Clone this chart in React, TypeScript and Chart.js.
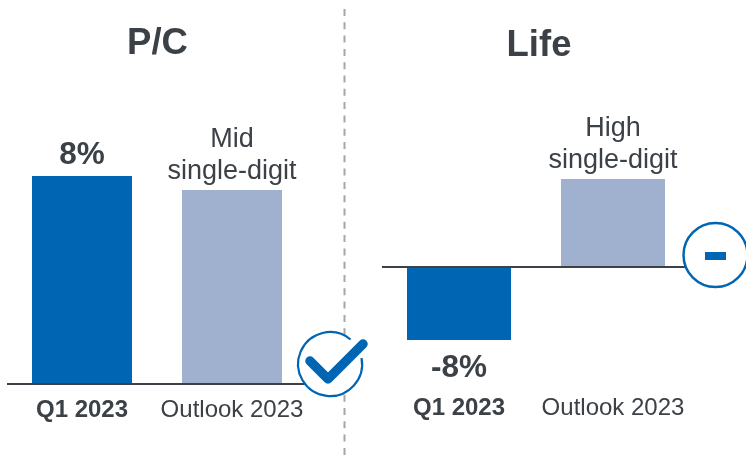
import React, { useEffect, useRef } from "react";
import { Chart, registerables } from "chart.js";

Chart.register(...registerables);

const categories = ["Q1 2023", "Outlook 2023"];
const pcValues = [8, 7.46];
const lifeValues = [-8, 9.64];
const pcLabels = [["8%"], ["Mid", "single-digit"]];
const lifeLabels = [["-8%"], ["High", "single-digit"]];
const pcTitle = "P/C";
const lifeTitle = "Life";

const BLUE = "#0066b3";
const LIGHT = "#9fb1cf";
const INK = "#3b4147";
const FONT = "'Liberation Sans', Arial, sans-serif";

type PanelCfg = {
  values: number[];
  labels: string[][];
  title: string;
  titleX: number;
  titleY: number;
  min: number;
  max: number;
  pad: { left: number; right: number };
  axisHeight: number;
  barPct: number;
  tickPad: number;
};

function makeChart(canvas: HTMLCanvasElement, cfg: PanelCfg) {
  const annotate = {
    id: "annotate",
    afterDatasetsDraw(chart: any) {
      const ctx = chart.ctx;
      ctx.save();
      ctx.fillStyle = INK;
      ctx.textAlign = "center";
      ctx.textBaseline = "alphabetic";
      ctx.font = `bold 36.5px ${FONT}`;
      ctx.fillText(cfg.title, cfg.titleX, cfg.titleY);
      const bars = chart.getDatasetMeta(0).data;
      bars.forEach((bar: any, i: number) => {
        const lines = cfg.labels[i];
        const negative = cfg.values[i] < 0;
        if (i === 0) ctx.font = `bold 31.5px ${FONT}`;
        else ctx.font = `27px ${FONT}`;
        if (negative) {
          ctx.fillText(lines[0], bar.x, bar.y + 37);
        } else {
          lines.forEach((line: string, k: number) => {
            const y = bar.y - (i === 0 ? 12 : 11) - (lines.length - 1 - k) * 32;
            ctx.fillText(line, bar.x, y);
          });
        }
      });
      ctx.restore();
    },
  };

  return new Chart(canvas, {
    type: "bar",
    data: {
      labels: categories,
      datasets: [
        {
          data: cfg.values,
          backgroundColor: [BLUE, LIGHT],
          categoryPercentage: 1,
          barPercentage: cfg.barPct,
        },
      ],
    },
    options: {
      animation: false,
      responsive: false,
      maintainAspectRatio: false,
      layout: { padding: { left: cfg.pad.left, right: cfg.pad.right, top: 0, bottom: 0 } },
      plugins: { legend: { display: false }, tooltip: { enabled: false }, title: { display: false } },
      scales: {
        x: {
          grid: { display: false, drawTicks: false },
          border: { display: false },
          ticks: {
            color: INK,
            padding: cfg.tickPad,
            maxRotation: 0,
            autoSkip: false,
            font: (c: any) => ({
              family: FONT,
              size: 24,
              weight: c.index === 0 ? "bold" : "normal",
            }),
          },
          afterFit: (s: any) => {
            s.height = cfg.axisHeight;
          },
        },
        y: {
          min: cfg.min,
          max: cfg.max,
          ticks: { display: false },
          border: { display: false },
          grid: {
            drawTicks: false,
            lineWidth: 2,
            color: (c: any) => (c.tick && c.tick.value === 0 ? INK : "transparent"),
          },
          afterBuildTicks: (s: any) => {
            s.ticks = [{ value: 0 }];
          },
          afterFit: (s: any) => {
            s.width = 0;
          },
        },
      },
    } as any,
    plugins: [annotate],
  });
}

export default function App() {
  const pcRef = useRef<HTMLCanvasElement>(null);
  const lifeRef = useRef<HTMLCanvasElement>(null);

  useEffect(() => {
    const a = makeChart(pcRef.current!, {
      values: pcValues,
      labels: pcLabels,
      title: pcTitle,
      titleX: 157.5,
      titleY: 53.5,
      min: 0,
      max: 384 / 26,
      pad: { left: 7, right: 38 },
      axisHeight: 73,
      barPct: 2 / 3,
      tickPad: 12,
    });
    const b = makeChart(lifeRef.current!, {
      values: lifeValues,
      labels: lifeLabels,
      title: lifeTitle,
      titleX: 194,
      titleY: 56,
      min: -13.7,
      max: 267 / 9.125,
      pad: { left: 37, right: 56 },
      axisHeight: 65,
      barPct: 104 / 154,
      tickPad: 2,
    });
    return () => {
      a.destroy();
      b.destroy();
    };
  }, []);

  return (
    <div style={{ position: "fixed", left: 0, top: 0, width: 746, height: 457, overflow: "hidden", background: "#fff" }}>
      <canvas ref={pcRef} width={345} height={457} style={{ position: "absolute", left: 0, top: 0 }} />
      <canvas ref={lifeRef} width={401} height={457} style={{ position: "absolute", left: 345, top: 0 }} />
      <svg width={746} height={457} style={{ position: "absolute", left: 0, top: 0 }}>
        <line x1={344.5} y1={9} x2={344.5} y2={457} stroke="#a6a6a6" strokeWidth={2} strokeDasharray="7 6.3" />
        <circle cx={330} cy={364} r={32} fill="#fff" stroke="none" />
        <path d="M 350.6 339.5 A 32 32 0 1 0 361.5 358" fill="none" stroke={BLUE} strokeWidth={2.2} />
        <path d="M 310 361 L 328 379 L 363 344" fill="none" stroke={BLUE} strokeWidth={9.5} strokeLinecap="round" strokeLinejoin="round" />
        <circle cx={715.5} cy={255} r={32} fill="#fff" stroke={BLUE} strokeWidth={2.5} />
        <rect x={705} y={252} width={21} height={8} fill={BLUE} />
      </svg>
    </div>
  );
}
